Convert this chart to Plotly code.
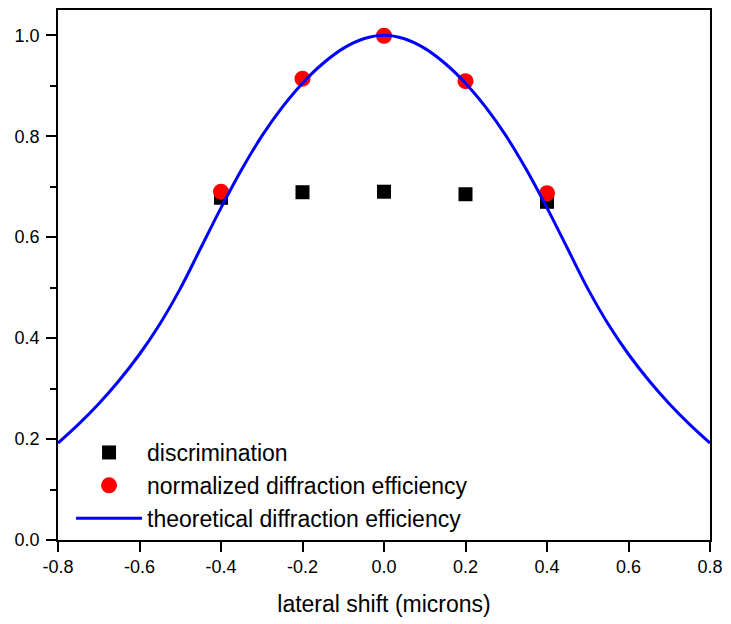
import plotly.graph_objects as go

# measured data
x_points = [-0.4, -0.2, 0.0, 0.2, 0.4]
discrimination = [0.678, 0.689, 0.690, 0.685, 0.670]
normalized_de = [0.690, 0.914, 0.999, 0.909, 0.687]

# theoretical curve
x_curve = [-0.8, -0.75, -0.7, -0.65, -0.6, -0.55, -0.5, -0.45, -0.4, -0.35, -0.3,
           -0.25, -0.2, -0.15, -0.1, -0.05, 0.0, 0.05, 0.1, 0.15, 0.2, 0.25, 0.3,
           0.35, 0.4, 0.45, 0.5, 0.55, 0.6, 0.65, 0.7, 0.75, 0.8]
theory = [0.192, 0.229, 0.270, 0.316, 0.368, 0.428, 0.498, 0.578, 0.658, 0.733, 0.800,
          0.857, 0.905, 0.944, 0.974, 0.993, 1.000, 0.993, 0.974, 0.944, 0.905, 0.857, 0.800,
          0.733, 0.658, 0.578, 0.498, 0.428, 0.368, 0.316, 0.270, 0.229, 0.192]

x_tickvals = [-0.8, -0.6, -0.4, -0.2, 0.0, 0.2, 0.4, 0.6, 0.8]
x_ticktext = ["-0.8", "-0.6", "-0.4", "-0.2", "0.0", "0.2", "0.4", "0.6", "0.8"]
y_tickvals = [0.0, 0.2, 0.4, 0.6, 0.8, 1.0]
y_ticktext = ["0.0", "0.2", "0.4", "0.6", "0.8", "1.0"]

FONT = "Arial, Liberation Sans, sans-serif"

fig = go.Figure()
fig.add_trace(go.Scatter(x=x_points, y=discrimination, mode="markers",
                         marker=dict(symbol="square", size=14, color="black"),
                         name="discrimination"))
fig.add_trace(go.Scatter(x=x_points, y=normalized_de, mode="markers",
                         marker=dict(symbol="circle", size=16, color="#FF0000"),
                         name="normalized diffraction efficiency"))
fig.add_trace(go.Scatter(x=x_curve, y=theory, mode="lines", line_shape="spline",
                         line=dict(color="#0000FF", width=3),
                         name="theoretical diffraction efficiency"))

fig.update_layout(
    width=731, height=624,
    margin=dict(l=58, r=18, t=8, b=84),
    paper_bgcolor="white", plot_bgcolor="white",
    font=dict(family=FONT, color="black"),
    showlegend=True,
    legend=dict(x=0.02, y=0.0, xanchor="left", yanchor="bottom",
                traceorder="normal", font=dict(size=23, family=FONT),
                bgcolor="rgba(0,0,0,0)", itemwidth=66, tracegroupgap=0),
)
fig.update_xaxes(range=[-0.8, 0.8], tickvals=x_tickvals, ticktext=x_ticktext,
                 ticks="outside", ticklen=10, tickwidth=1.5, tickcolor="black",
                 showline=True, linewidth=1.5, linecolor="black", mirror=True,
                 showgrid=False, zeroline=False,
                 tickfont=dict(size=18, family=FONT),
                 title=dict(text="lateral shift (microns)", font=dict(size=23, family=FONT),
                            standoff=20))
fig.update_yaxes(range=[0, 1.05], tickvals=y_tickvals, ticktext=y_ticktext,
                 ticks="outside", ticklen=10, tickwidth=1.5, tickcolor="black",
                 ticklabelstandoff=3,
                 minor=dict(dtick=0.1, ticks="outside", ticklen=6, tickwidth=1.5,
                            tickcolor="black", showgrid=False),
                 showline=True, linewidth=1.5, linecolor="black", mirror=True,
                 showgrid=False, zeroline=False,
                 tickfont=dict(size=18, family=FONT))

fig.write_html("out.html")
